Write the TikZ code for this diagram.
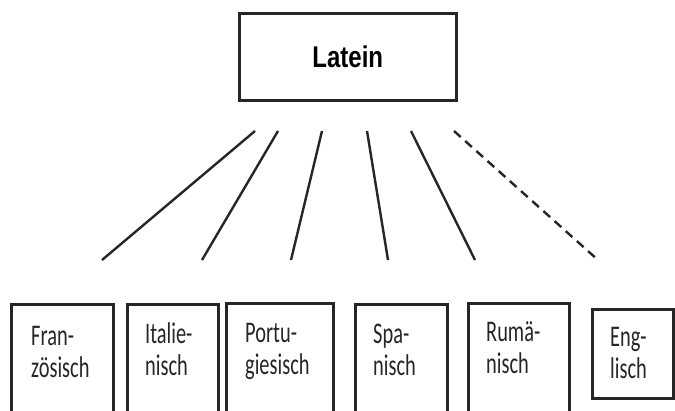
\documentclass[tikz,border=0pt]{standalone}
\usepackage{fontspec}
\usepackage{graphicx}
\newfontfamily\calib{Carlito}
\newfontfamily\headf{Liberation Sans}
\newcommand{\sq}[1]{\scalebox{0.68}[1]{#1}}
\begin{document}
\begin{tikzpicture}[x=1pt,y=-1pt,
  box/.style={draw=black!85, line width=2.6pt, inner sep=0pt, anchor=north west},
  ln/.style={line width=2.4pt, draw=black!85},
  lbl/.style={anchor=base west, inner sep=0pt, align=left, font=\calib\fontsize{30}{32}\selectfont, text=black!85}]
\useasboundingbox (0,0) rectangle (675,410);
\clip (0,0) rectangle (675,410);
\fill[white] (0,0) rectangle (675,410);
% top box
\node[box, minimum width=217pt, minimum height=87pt, font=\headf\bfseries\fontsize{30}{32}\selectfont] (lat) at (238,12) {\scalebox{0.8}[1]{Latein}};
% bottom boxes
\node[box, minimum width=102pt, minimum height=130pt] (fr) at (10,303) {};
\node[box, minimum width=91pt, minimum height=130pt] (it) at (126,303) {};
\node[box, minimum width=107pt, minimum height=130pt] (pt) at (225,302) {};
\node[box, minimum width=92pt, minimum height=130pt] (sp) at (354,303) {};
\node[box, minimum width=101pt, minimum height=130pt] (ru) at (467,302) {};
\node[box, minimum width=81pt, minimum height=89pt] (en) at (591,308) {};
% labels
\node[lbl] (frt1) at (31,345) {\sq{Fran-}};
\node[lbl] (frt2) at (31,377) {\sq{zösisch}};
\node[lbl] (itt1) at (145,343) {\sq{Italie-}};
\node[lbl] (itt2) at (145,375) {\sq{nisch}};
\node[lbl] (ptt1) at (245,342) {\sq{Portu-}};
\node[lbl] (ptt2) at (245,374) {\sq{giesisch}};
\node[lbl] (spt1) at (373,343) {\sq{Spa-}};
\node[lbl] (spt2) at (373,375) {\sq{nisch}};
\node[lbl] (rut1) at (486,341) {\sq{Rumä-}};
\node[lbl] (rut2) at (486,373) {\sq{nisch}};
\node[lbl] (ent1) at (610,346) {\sq{Eng-}};
\node[lbl] (ent2) at (610,378) {\sq{lisch}};
% line end points
\coordinate (a1) at (255,131); \coordinate (b1) at (102,260);
\coordinate (a2) at (278,131); \coordinate (b2) at (202,260);
\coordinate (a3) at (322,131); \coordinate (b3) at (291,260);
\coordinate (a4) at (367,131); \coordinate (b4) at (388,260);
\coordinate (a5) at (411,131); \coordinate (b5) at (475,260);
\coordinate (a6) at (454,131); \coordinate (b6) at (598,260);
\draw[ln] (a1) -- (b1);
\draw[ln] (a2) -- (b2);
\draw[ln] (a3) -- (b3);
\draw[ln] (a4) -- (b4);
\draw[ln] (a5) -- (b5);
\draw[ln, dash pattern=on 9pt off 6pt] (a6) -- (b6);
\end{tikzpicture}
\end{document}
